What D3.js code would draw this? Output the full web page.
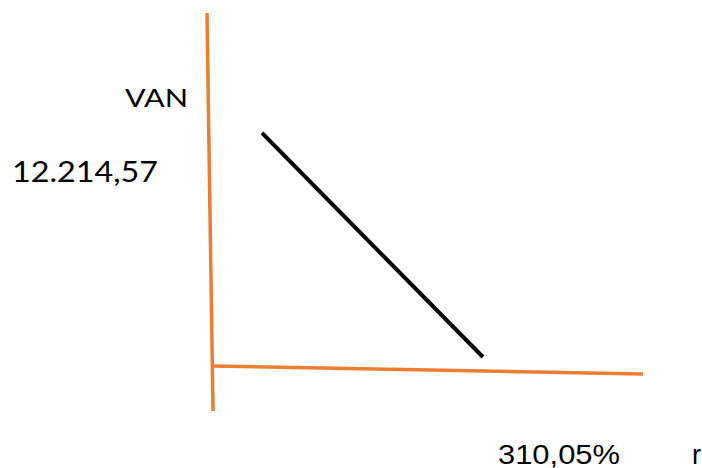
<!DOCTYPE html>
<html>
<head>
<meta charset="utf-8">
<script src="https://cdn.jsdelivr.net/npm/d3@7"></script>
<style>
html,body{margin:0;padding:0;background:#fff;}
svg{display:block;}
</style>
</head>
<body>
<svg id="chart" width="702" height="468"></svg>
<script>
// Data (r in %, VAN in currency units)
const vanLine = [ {r: 43.9, van: 14672}, {r: 241.9, van: 567} ];
const yAxisLine = [ {r: -5.4, van: 22228}, {r: 0, van: -2834} ];
const xAxisLine = [ {r: 0, van: 0}, {r: 385.3, van: -504} ];
const yTickValue = 12214.57;
const yTickLabel = "12.214,57";
const xTickValue = 310.05;
const xTickLabel = "310,05%";
const yAxisTitle = "VAN";
const xAxisTitle = "r";

const svg = d3.select("#chart");
const x = d3.scaleLinear().domain([0, 310.05]).range([213, 559]);
const y = d3.scaleLinear().domain([0, 12214.57]).range([366, 172]);
const line = d3.line().x(d => x(d.r)).y(d => y(d.van));

svg.append("path").datum(yAxisLine).attr("d", line)
  .attr("stroke", "#ED7D31").attr("stroke-width", 3.5).attr("fill", "none");
svg.append("path").datum(xAxisLine).attr("d", line)
  .attr("stroke", "#ED7D31").attr("stroke-width", 3.5).attr("fill", "none");
svg.append("path").datum(vanLine).attr("d", line)
  .attr("stroke", "#000").attr("stroke-width", 4).attr("fill", "none");

svg.append("text").attr("x", 125).attr("y", 107)
  .attr("font-family", "Lato, 'Open Sans', sans-serif").attr("font-size", 25)
  .attr("textLength", 63).attr("lengthAdjust", "spacingAndGlyphs")
  .attr("fill", "#000").text(yAxisTitle);
svg.append("text").attr("x", 12).attr("y", y(yTickValue) + 10)
  .attr("font-family", "Lato, 'Open Sans', sans-serif").attr("font-size", 28)
  .attr("textLength", 146).attr("lengthAdjust", "spacingAndGlyphs")
  .attr("fill", "#000").text(yTickLabel);
svg.append("text").attr("x", x(xTickValue) - 61).attr("y", 464)
  .attr("font-family", "'Liberation Sans', Arial, sans-serif").attr("font-size", 27)
  .attr("textLength", 122).attr("lengthAdjust", "spacingAndGlyphs")
  .attr("fill", "#000").text(xTickLabel);
svg.append("text").attr("x", 692).attr("y", 464)
  .attr("font-family", "'Liberation Sans', Arial, sans-serif").attr("font-size", 27)
  .attr("fill", "#000").text(xAxisTitle);
</script>
</body>
</html>
